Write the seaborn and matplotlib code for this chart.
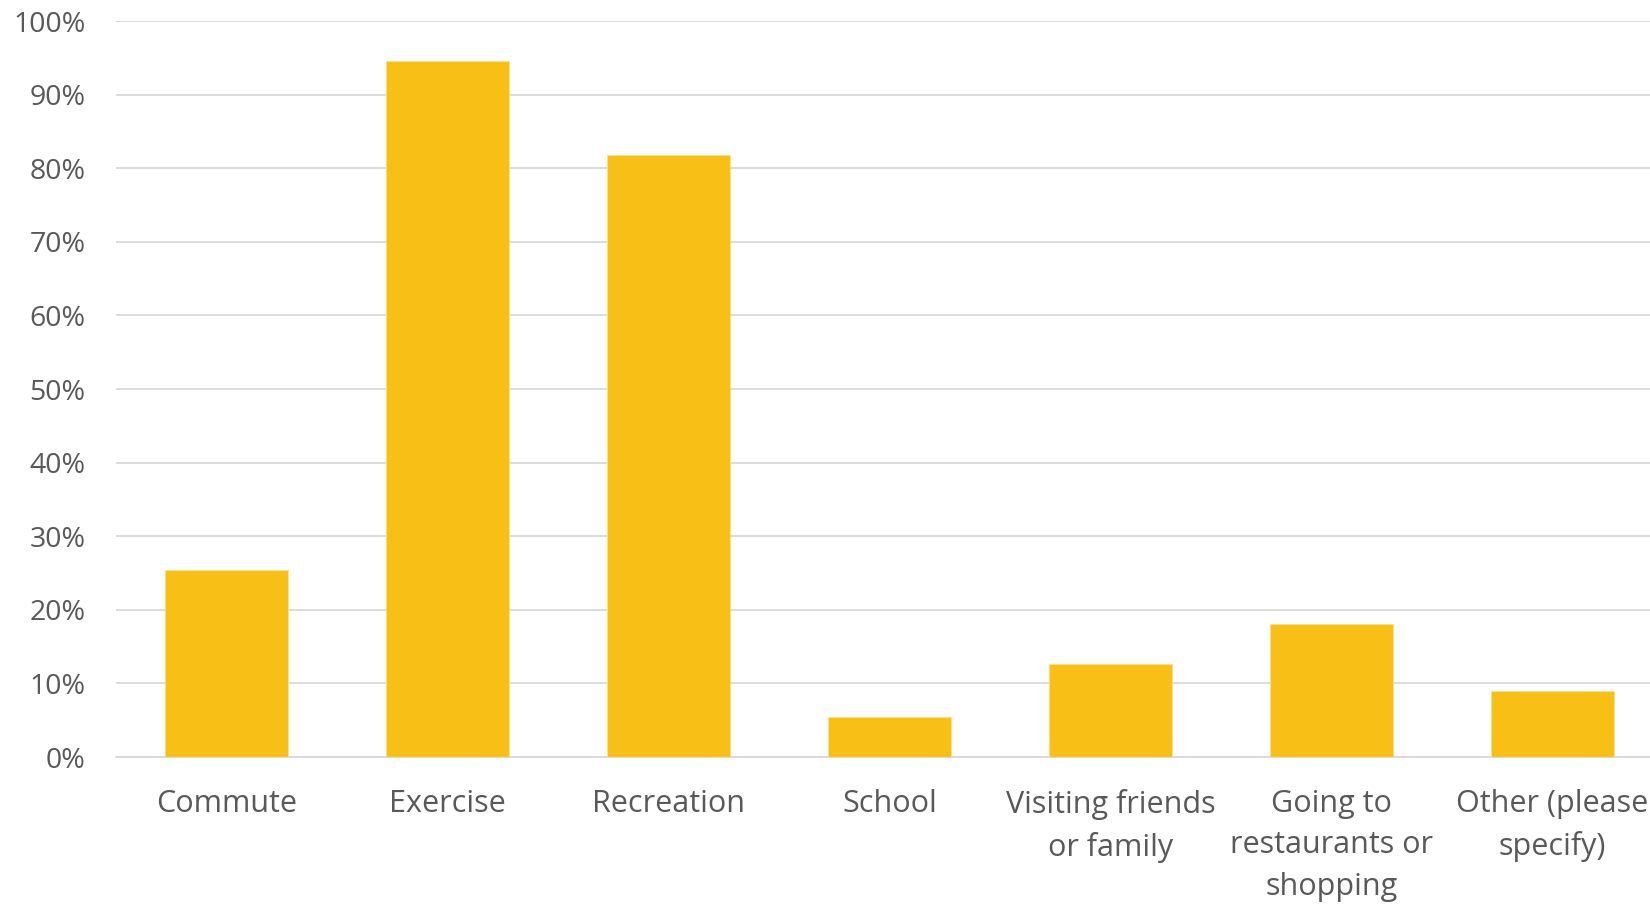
import matplotlib
matplotlib.use("Agg")
import matplotlib.pyplot as plt
import seaborn as sns
import pandas as pd
from matplotlib.ticker import PercentFormatter, MultipleLocator

categories = [
    "Commute",
    "Exercise",
    "Recreation",
    "School",
    "Visiting friends\nor family",
    "Going to\nrestaurants or\nshopping",
    "Other (please\nspecify)",
]
shares = [0.254, 0.946, 0.818, 0.054, 0.127, 0.181, 0.090]

df = pd.DataFrame({"purpose": categories, "share": shares})

sns.set_theme(style="white")
plt.rcParams["font.family"] = ["Open Sans", "DejaVu Sans"]

fig = plt.figure(figsize=(16.5, 9.06), dpi=100)
ax = fig.add_axes([116 / 1650, 1 - 757 / 906, 1547 / 1650, 736 / 906])

sns.barplot(data=df, x="purpose", y="share", color="#F8BF17", saturation=1,
            width=0.556, edgecolor="#FBE08A", linewidth=0.6, ax=ax, zorder=3)

ax.set_ylim(0, 1)
ax.set_xlim(-0.5, len(categories) - 0.5)
ax.yaxis.set_major_locator(MultipleLocator(0.1))
ax.yaxis.set_major_formatter(PercentFormatter(1.0, decimals=0))
ax.grid(axis="y", color="#D9D9D9", linewidth=1.3, zorder=0)
ax.grid(axis="x", visible=False)
for side in ["top", "right", "left"]:
    ax.spines[side].set_visible(False)
ax.spines["bottom"].set_color("#D9D9D9")
ax.spines["bottom"].set_linewidth(1.3)

ax.set_xlabel("")
ax.set_ylabel("")
ax.tick_params(axis="y", length=0, pad=22, labelsize=20.5, labelcolor="#595959")
ax.tick_params(axis="x", length=0, pad=23, labelsize=22, labelcolor="#595959")
for lbl in ax.get_xticklabels():
    lbl.set_linespacing(1.5)

fig.savefig("out.png", dpi=100)
